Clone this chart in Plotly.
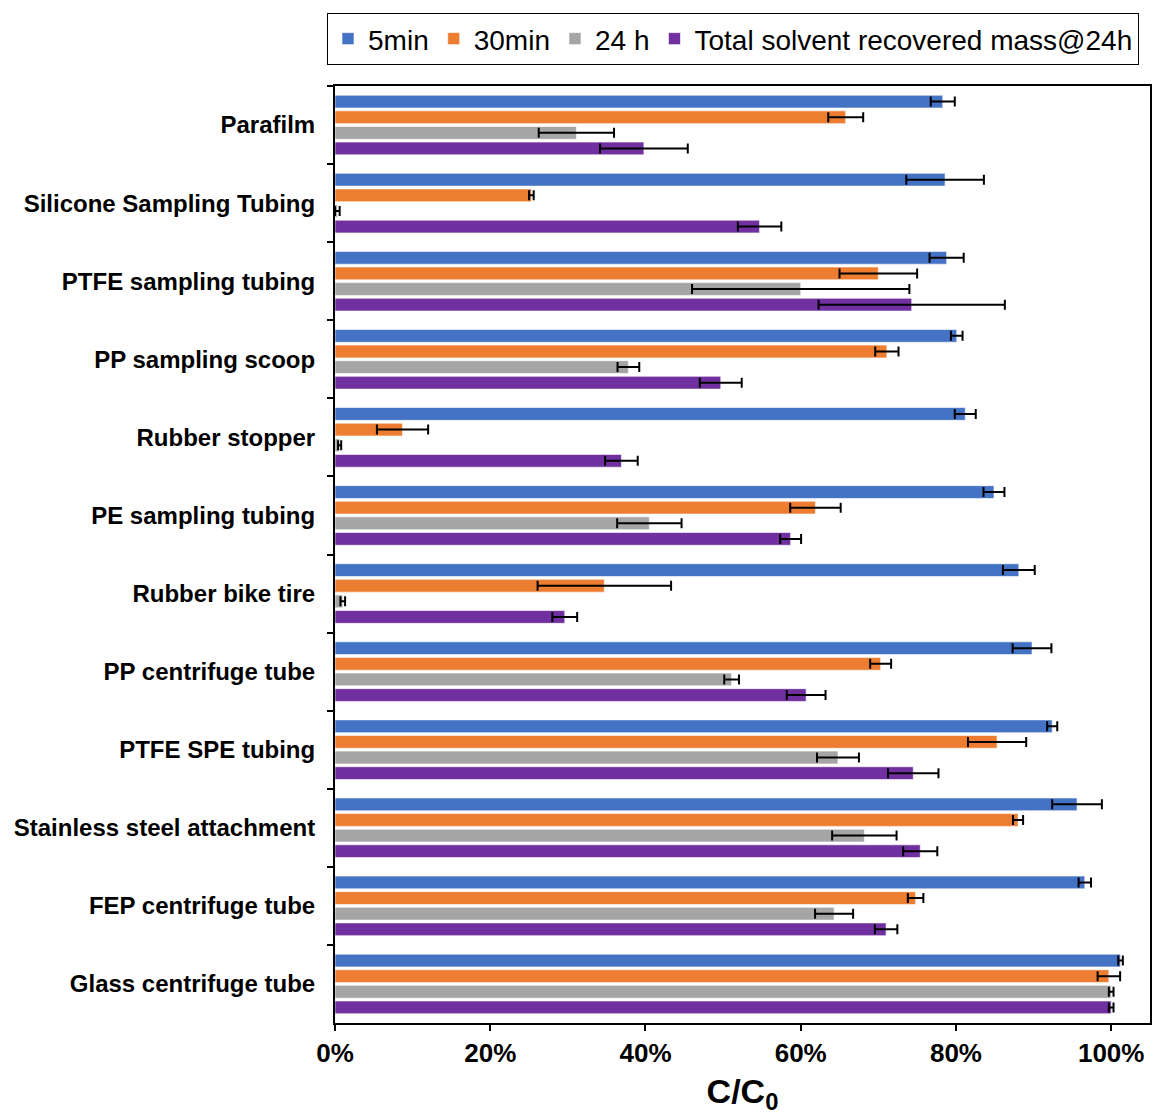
import plotly.graph_objects as go

categories = ["Parafilm", "Silicone Sampling Tubing", "PTFE sampling tubing", "PP sampling scoop",
              "Rubber stopper", "PE sampling tubing", "Rubber bike tire", "PP centrifuge tube",
              "PTFE SPE tubing", "Stainless steel attachment", "FEP centrifuge tube", "Glass centrifuge tube"]

series_names = ["5min", "30min", "24 h", "Total solvent recovered mass@24h"]
colors = ["#4472C4", "#ED7D31", "#A5A5A5", "#7030A0"]

v_5min = [78.3, 78.6, 78.8, 80.1, 81.2, 84.9, 88.1, 89.8, 92.4, 95.6, 96.6, 101.2]
e_5min = [1.55, 5.0, 2.2, 0.75, 1.35, 1.35, 2.05, 2.5, 0.65, 3.2, 0.8, 0.3]

v_30min = [65.8, 25.3, 70.0, 71.1, 8.7, 61.9, 34.7, 70.3, 85.3, 88.0, 74.8, 99.7]
e_30min = [2.25, 0.3, 5.0, 1.5, 3.3, 3.25, 8.6, 1.35, 3.75, 0.65, 1.0, 1.45]

v_24h = [31.1, 0.3, 60.0, 37.8, 0.6, 40.5, 1.0, 51.1, 64.8, 68.2, 64.3, 100.0]
e_24h = [4.85, 0.3, 14.0, 1.4, 0.2, 4.15, 0.3, 0.95, 2.7, 4.15, 2.45, 0.3]

v_total = [39.8, 54.7, 74.3, 49.7, 36.9, 58.7, 29.6, 60.7, 74.5, 75.4, 71.0, 100.0]
e_total = [5.65, 2.8, 12.0, 2.7, 2.1, 1.35, 1.6, 2.5, 3.25, 2.2, 1.45, 0.3]

values = [v_5min, v_30min, v_24h, v_total]
errors = [e_5min, e_30min, e_24h, e_total]

FONT = "Liberation Sans, Arial, sans-serif"

fig = go.Figure()
for name, col, vals, errs in zip(series_names, colors, values, errors):
    fig.add_trace(go.Bar(
        y=categories,
        x=[v / 100 for v in vals],
        name=name,
        orientation="h",
        marker=dict(color=col, line=dict(color="rgba(255,255,255,0.6)", width=1)),
        error_x=dict(type="data", array=[e / 100 for e in errs], visible=True,
                     color="black", thickness=2, width=5),
    ))

fig.update_layout(
    width=1154, height=1118,
    margin=dict(l=335, r=2, t=86, b=95),
    paper_bgcolor="white", plot_bgcolor="white",
    barmode="group", bargap=0.2, bargroupgap=0.18,
    font=dict(family=FONT, color="black"),
    legend=dict(
        orientation="h", x=-0.0098, xanchor="left", y=1.078, yanchor="top",
        bordercolor="black", borderwidth=1,
        font=dict(family=FONT, size=28, color="black"),
        traceorder="normal", itemwidth=30,
    ),
    xaxis=dict(
        range=[0, 1.05], tickvals=[0, 0.2, 0.4, 0.6, 0.8, 1.0], tickformat=".0%",
        showline=True, linecolor="black", linewidth=2, mirror=True,
        ticks="outside", ticklen=6, tickwidth=2, tickcolor="black",
        showgrid=False, zeroline=False,
        tickfont=dict(family=FONT, size=26, color="black", weight="bold"),
        title=dict(text="<b>C/C<sub>0</sub></b>", font=dict(family=FONT, size=34, color="black"),
                   standoff=12),
    ),
    yaxis=dict(
        autorange="reversed", type="category",
        showline=True, linecolor="black", linewidth=2, mirror=True,
        ticks="outside", ticklen=6, tickwidth=2, tickcolor="black", tickson="boundaries",
        showgrid=False, zeroline=False,
        tickfont=dict(family=FONT, size=24, color="black", weight="bold"),
        ticklabelstandoff=13,
    ),
)

fig.write_html("out.html")
